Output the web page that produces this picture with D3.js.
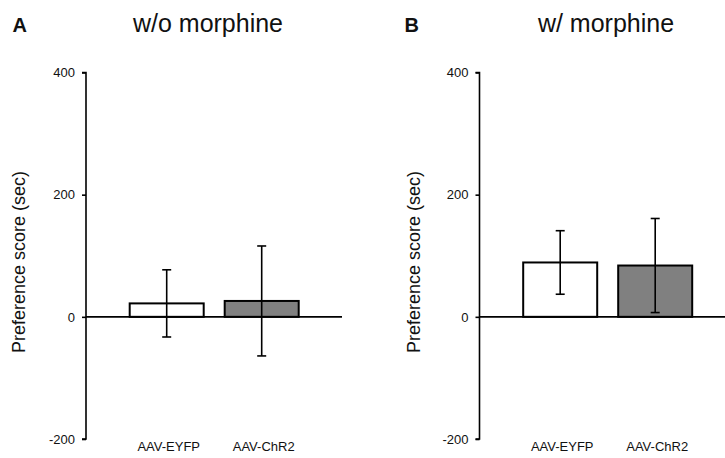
<!DOCTYPE html>
<html>
<head>
<meta charset="utf-8">
<script src="https://cdn.jsdelivr.net/npm/d3@7"></script>
<style>
  body { margin: 0; background: #fff; }
  svg { display: block; font-family: Arial, "Liberation Sans", sans-serif; }
</style>
</head>
<body>
<svg id="chart" width="725" height="458"></svg>
<script>
// ---- data ----
const categories = ["AAV-EYFP", "AAV-ChR2"];
const panelTitles = ["w/o morphine", "w/ morphine"];
const panelLetters = ["A", "B"];
const meansWithout = [22, 26];
const errorsWithout = [55, 90];
const meansWith = [89, 84];
const errorsWith = [52, 77];
const yTicks = [-200, 0, 200, 400];
const yTickLabels = ["-200", "0", "200", "400"];
const yLabel = "Preference score (sec)";
const barFills = ["#ffffff", "#808080"];

const panels = [
  { means: meansWithout, errors: errorsWithout },
  { means: meansWith, errors: errorsWith }
];

// ---- layout ----
const svg = d3.select("#chart");
const y = d3.scaleLinear().domain([-200, 400]).range([439, 72.5]);
const layout = [
  { axisX: 86, zeroEnd: 342, titleX: 208, letterX: 12.5, labelX: 25 },
  { axisX: 479.5, zeroEnd: 725, titleX: 606, letterX: 404.5, labelX: 420 }
];

panels.forEach((p, i) => {
  const L = layout[i];
  const g = svg.append("g");
  const x = d3.scaleBand()
    .domain(categories)
    .range([L.axisX + 33.2, L.axisX + 223.2])
    .paddingInner(0.221)
    .paddingOuter(0.1105);

  // titles
  g.append("text").attr("x", L.titleX).attr("y", 32)
    .attr("text-anchor", "middle").attr("font-size", 25).attr("fill", "#111")
    .text(panelTitles[i]);
  g.append("text").attr("x", L.letterX).attr("y", 32)
    .attr("font-size", 20).attr("font-weight", "bold").attr("fill", "#111")
    .text(panelLetters[i]);

  // y axis
  const axis = d3.axisLeft(y).tickValues(yTicks).tickSize(4).tickPadding(7)
    .tickFormat((d, k) => yTickLabels[k]);
  const ag = g.append("g").attr("transform", `translate(${L.axisX},0)`).call(axis);
  ag.select(".domain").attr("stroke", "#000").attr("stroke-width", 1.6).attr("d", `M-4,${y(400)}H0V${y(-200)}H-4`);
  ag.selectAll(".tick line").attr("stroke", "#000").attr("stroke-width", 1.6);
  ag.selectAll(".tick text").attr("font-size", 13).attr("fill", "#111")
    .attr("font-family", "Arial, 'Liberation Sans', sans-serif");

  // y label
  g.append("text")
    .attr("transform", `translate(${L.labelX},262) rotate(-90)`)
    .attr("text-anchor", "middle").attr("font-size", 18).attr("fill", "#111")
    .text(yLabel);

  // bars
  g.selectAll("rect.bar").data(p.means).enter().append("rect")
    .attr("class", "bar")
    .attr("x", (d, j) => x(categories[j]))
    .attr("width", x.bandwidth())
    .attr("y", d => y(Math.max(0, d)))
    .attr("height", d => Math.abs(y(d) - y(0)))
    .attr("fill", (d, j) => barFills[j])
    .attr("stroke", "#000").attr("stroke-width", 2);

  // zero line
  g.append("line")
    .attr("x1", L.axisX).attr("x2", L.zeroEnd)
    .attr("y1", y(0)).attr("y2", y(0))
    .attr("stroke", "#000").attr("stroke-width", 1.6);

  // error bars
  const cap = 4.5;
  p.means.forEach((m, j) => {
    const cx = x(categories[j]) + x.bandwidth() / 2;
    const e = p.errors[j];
    g.append("line").attr("x1", cx).attr("x2", cx)
      .attr("y1", y(m + e)).attr("y2", y(m - e))
      .attr("stroke", "#000").attr("stroke-width", 1.6);
    [m + e, m - e].forEach(v => {
      g.append("line").attr("x1", cx - cap).attr("x2", cx + cap)
        .attr("y1", y(v)).attr("y2", y(v))
        .attr("stroke", "#000").attr("stroke-width", 1.6);
    });
  });

  // category labels
  g.selectAll("text.cat").data(categories).enter().append("text")
    .attr("class", "cat")
    .attr("x", d => x(d) + x.bandwidth() / 2 + 2)
    .attr("y", 451)
    .attr("text-anchor", "middle").attr("font-size", 13).attr("fill", "#111")
    .text(d => d);
});
</script>
</body>
</html>
